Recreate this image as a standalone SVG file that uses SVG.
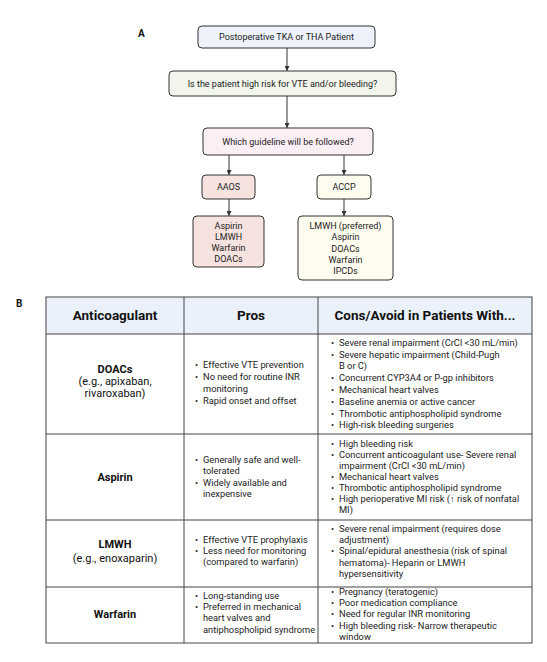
<svg xmlns="http://www.w3.org/2000/svg" width="547" height="662" viewBox="0 0 547 662">
<defs>
<marker id="arr" viewBox="0 0 10 10" refX="10" refY="5" markerWidth="5" markerHeight="5" orient="auto" markerUnits="userSpaceOnUse">
<path d="M0,0 L10,5 L0,10 z" fill="#333"/>
</marker>
<style>
.box{stroke:#333;stroke-width:1}
.t{font-family:Roboto,"Liberation Sans",sans-serif;font-size:9px;fill:#222}
.tb{font-family:Roboto,"Liberation Sans",sans-serif;font-size:9.3px;fill:#222}
.c{text-anchor:middle}
.lab{font-family:Roboto,"Liberation Sans",sans-serif;font-size:10px;font-weight:bold;fill:#111}
.hd{font-family:Roboto,"Liberation Sans",sans-serif;font-size:13.5px;font-weight:bold;fill:#111;text-anchor:middle}
.nm{font-family:Roboto,"Liberation Sans",sans-serif;font-size:11px;fill:#111;text-anchor:middle}
.nb{font-weight:bold}
.grid{stroke:#444;stroke-width:1;fill:none}
.con{stroke:#333;stroke-width:1;fill:none;marker-end:url(#arr)}
</style>
</defs>
<rect width="547" height="662" fill="#fff"/>
<text class="lab" x="138" y="37">A</text>
<text class="lab" x="16" y="307">B</text>

<g id="connectors">
<line class="con" x1="287" y1="48" x2="287" y2="71"/>
<line class="con" x1="287" y1="96" x2="287" y2="128"/>
<line class="con" x1="229" y1="155" x2="229" y2="175"/>
<line class="con" x1="344" y1="155" x2="344" y2="175"/>
<line class="con" x1="229" y1="199" x2="229" y2="216"/>
<line class="con" x1="344" y1="199" x2="344" y2="216"/>
</g>

<g id="n-start">
<rect class="box" x="198" y="26" width="177" height="22" rx="4" fill="#edf2fb"/>
<text class="t c" x="286.5" y="40">Postoperative TKA or THA Patient</text>
</g>
<g id="n-risk">
<rect class="box" x="169" y="71" width="227" height="25" rx="4" fill="#f2f5ec"/>
<text class="t c" x="282.5" y="87">Is the patient high risk for VTE and/or bleeding?</text>
</g>
<g id="n-guideline">
<rect class="box" x="203" y="128" width="170" height="27" rx="4" fill="#fbeef4"/>
<text class="t c" x="288" y="144.5">Which guideline will be followed?</text>
</g>
<g id="n-aaos">
<rect class="box" x="202" y="175" width="53" height="24" rx="4" fill="#f6e3df"/>
<text class="t c" x="228.5" y="190">AAOS</text>
</g>
<g id="n-accp">
<rect class="box" x="317" y="175" width="54" height="24" rx="4" fill="#fefbef"/>
<text class="t c" x="344" y="190">ACCP</text>
</g>
<g id="n-aaos-list">
<rect class="box" x="193" y="216" width="71" height="51" rx="4" fill="#f6e3df"/>
<text class="t c" x="228.5" y="228.5">Aspirin</text>
<text class="t c" x="228.5" y="239.8">LMWH</text>
<text class="t c" x="228.5" y="251">Warfarin</text>
<text class="t c" x="228.5" y="262.2">DOACs</text>
</g>
<g id="n-accp-list">
<rect class="box" x="298" y="216" width="95" height="64" rx="4" fill="#fefbef"/>
<text class="t c" x="345.5" y="229">LMWH (preferred)</text>
<text class="t c" x="345.5" y="240.3">Aspirin</text>
<text class="t c" x="345.5" y="251.6">DOACs</text>
<text class="t c" x="345.5" y="262.9">Warfarin</text>
<text class="t c" x="345.5" y="274.2">IPCDs</text>
</g>

<g id="table">
<rect x="46" y="297" width="486" height="37" fill="#eaf1fb"/>
<rect class="grid" x="46" y="297" width="486" height="346" stroke-width="1.2"/>
<line class="grid" x1="184" y1="297" x2="184" y2="643"/>
<line class="grid" x1="318" y1="297" x2="318" y2="643"/>
<line class="grid" x1="46" y1="334" x2="532" y2="334"/>
<line class="grid" x1="46" y1="434" x2="532" y2="434"/>
<line class="grid" x1="46" y1="520" x2="532" y2="520"/>
<line class="grid" x1="46" y1="587" x2="532" y2="587"/>
<text class="hd" x="115" y="320">Anticoagulant</text>
<text class="hd" x="251" y="320">Pros</text>
<text class="hd" x="425" y="320">Cons/Avoid in Patients With...</text>
</g>

<g id="row-doacs">
<text class="nm nb" x="115" y="373">DOACs</text>
<text class="nm" x="115" y="385">(e.g., apixaban,</text>
<text class="nm" x="115" y="397">rivaroxaban)</text>
<g class="tb">
<text x="195" y="368">•</text><text x="203" y="368">Effective VTE prevention</text>
<text x="195" y="380">•</text><text x="203" y="380">No need for routine INR</text>
<text x="203" y="392">monitoring</text>
<text x="195" y="404">•</text><text x="203" y="404">Rapid onset and offset</text>
<text x="331" y="346">•</text><text x="339" y="346">Severe renal impairment (CrCl &lt;30 mL/min)</text>
<text x="331" y="357.5">•</text><text x="339" y="357.5">Severe hepatic impairment (Child-Pugh</text>
<text x="339" y="369">B or C)</text>
<text x="331" y="381">•</text><text x="339" y="381">Concurrent CYP3A4 or P-gp inhibitors</text>
<text x="331" y="393">•</text><text x="339" y="393">Mechanical heart valves</text>
<text x="331" y="404.5">•</text><text x="339" y="404.5">Baseline anemia or active cancer</text>
<text x="331" y="416.5">•</text><text x="339" y="416.5">Thrombotic antiphospholipid syndrome</text>
<text x="331" y="428">•</text><text x="339" y="428">High-risk bleeding surgeries</text>
</g>
</g>

<g id="row-aspirin">
<text class="nm nb" x="115" y="480.5">Aspirin</text>
<g class="tb">
<text x="195" y="463">•</text><text x="203" y="463">Generally safe and well-</text>
<text x="203" y="474">tolerated</text>
<text x="195" y="485.5">•</text><text x="203" y="485.5">Widely available and</text>
<text x="203" y="496.5">inexpensive</text>
<text x="331" y="447">•</text><text x="339" y="447">High bleeding risk</text>
<text x="331" y="457.5">•</text><text x="339" y="457.5">Concurrent anticoagulant use- Severe renal</text>
<text x="339" y="468.5">impairment (CrCl &lt;30 mL/min)</text>
<text x="331" y="479.5">•</text><text x="339" y="479.5">Mechanical heart valves</text>
<text x="331" y="490.5">•</text><text x="339" y="490.5">Thrombotic antiphospholipid syndrome</text>
<text x="331" y="502">•</text><text x="339" y="502">High perioperative MI risk (↑ risk of nonfatal</text>
<text x="339" y="512.5">MI)</text>
</g>
</g>

<g id="row-lmwh">
<text class="nm nb" x="115" y="548">LMWH</text>
<text class="nm" x="115" y="561.5">(e.g., enoxaparin)</text>
<g class="tb">
<text x="195" y="543">•</text><text x="203" y="543">Effective VTE prophylaxis</text>
<text x="195" y="554">•</text><text x="203" y="554">Less need for monitoring</text>
<text x="203" y="565">(compared to warfarin)</text>
<text x="331" y="532">•</text><text x="339" y="532">Severe renal impairment (requires dose</text>
<text x="339" y="543">adjustment)</text>
<text x="331" y="554">•</text><text x="339" y="554">Spinal/epidural anesthesia (risk of spinal</text>
<text x="339" y="565.5">hematoma)- Heparin or LMWH</text>
<text x="339" y="577">hypersensitivity</text>
</g>
</g>

<g id="row-warfarin">
<text class="nm nb" x="115" y="618">Warfarin</text>
<g class="tb">
<text x="195" y="599">•</text><text x="203" y="599">Long-standing use</text>
<text x="195" y="610">•</text><text x="203" y="610">Preferred in mechanical</text>
<text x="203" y="621">heart valves and</text>
<text x="203" y="632.5">antiphospholipid syndrome</text>
<text x="331" y="594.5">•</text><text x="339" y="594.5">Pregnancy (teratogenic)</text>
<text x="331" y="605.5">•</text><text x="339" y="605.5">Poor medication compliance</text>
<text x="331" y="617">•</text><text x="339" y="617">Need for regular INR monitoring</text>
<text x="331" y="628.5">•</text><text x="339" y="628.5">High bleeding risk- Narrow therapeutic</text>
<text x="339" y="639.5">window</text>
</g>
</g>
</svg>
